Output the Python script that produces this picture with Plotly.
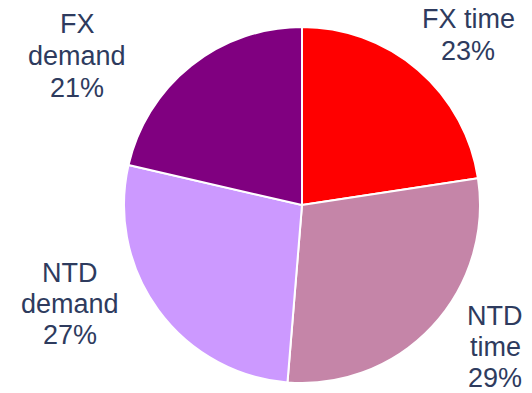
import plotly.graph_objects as go

# Data
categories = ["FX time", "NTD time", "NTD demand", "FX demand"]
label_lines = [["FX time"], ["NTD", "time"], ["NTD", "demand"], ["FX", "demand"]]
values = [22.6, 28.7, 27.3, 21.4]
colors = ["#FF0000", "#C585A8", "#CC99FF", "#800080"]

# label placement in pixels (layout only): x centre, y of first line, line step
label_pos = [(468, 19, 32), (495, 316, 31), (70, 273, 31), (77, 24, 32)]

W, H = 532, 393
cx, cy, r = 302, 205, 178

fig = go.Figure(go.Pie(
    labels=categories,
    values=values,
    sort=False,
    direction="clockwise",
    rotation=0,
    marker=dict(colors=colors, line=dict(color="white", width=2)),
    textinfo="none",
    hoverinfo="label+percent",
    showlegend=False,
    domain=dict(x=[(cx - r) / W, (cx + r) / W], y=[(H - cy - r) / H, (H - cy + r) / H]),
))

total = sum(values)
annotations = []
for lines, v, (px, py, step) in zip(label_lines, values, label_pos):
    all_lines = lines + [f"{round(100 * v / total)}%"]
    for i, t in enumerate(all_lines):
        annotations.append(dict(
            text=t,
            x=px / W, y=1 - (py + i * step) / H, xref="paper", yref="paper",
            xanchor="center", yanchor="middle", showarrow=False,
            font=dict(family="Liberation Sans, Arial, sans-serif", size=27, color="#2E3B5E"),
        ))

fig.update_layout(
    width=W, height=H,
    margin=dict(l=0, r=0, t=0, b=0),
    paper_bgcolor="white", plot_bgcolor="white",
    annotations=annotations,
)

fig.write_html("out.html")
